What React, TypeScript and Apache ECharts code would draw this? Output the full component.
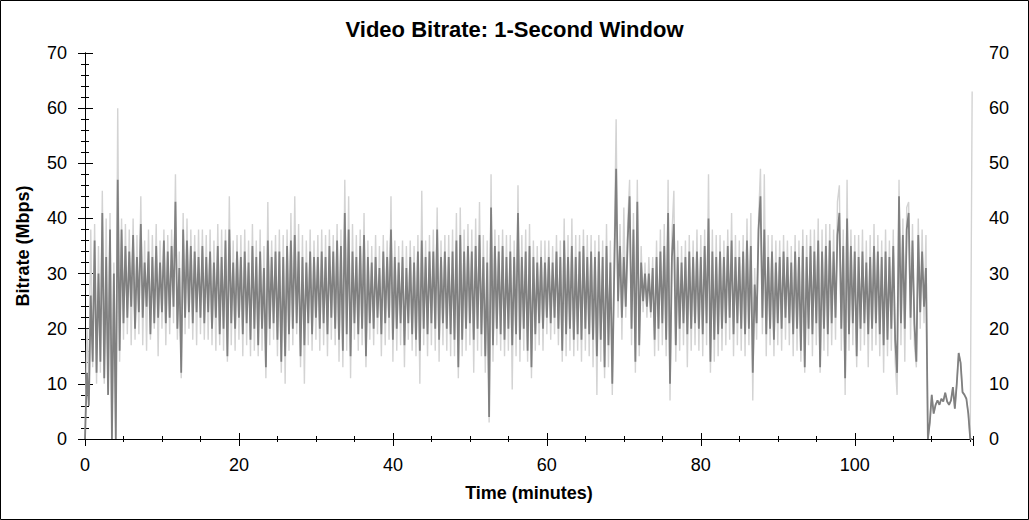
import { useEffect, useRef } from 'react';
import * as echarts from 'echarts';

// one sample every 15 seconds (Mbps)
const STEP_MIN = 0.25;

const DARK: number[] = [
  0, 12, 6, 26, 14, 36, 12, 30, 14, 41, 11, 33, 8, 38, 0, 30, 0, 47, 16, 38,
  21, 35, 22, 34, 24, 37, 20, 33, 23, 39, 22, 32, 24, 34, 19, 33, 21, 35, 22, 32,
  23, 36, 21, 34, 22, 35, 24, 43, 20, 31, 12, 38, 22, 36, 23, 35, 21, 34, 23, 33,
  22, 35, 21, 33, 23, 34, 20, 32, 22, 35, 19, 33, 20, 36, 15, 38, 21, 32, 20, 34,
  22, 33, 19, 34, 21, 32, 18, 35, 20, 33, 17, 34, 20, 31, 13, 36, 20, 33, 21, 34,
  18, 34, 14, 33, 15, 35, 19, 36, 20, 37, 21, 34, 15, 33, 17, 32, 21, 34, 19, 33,
  22, 33, 20, 34, 21, 33, 19, 35, 22, 34, 20, 36, 18, 35, 16, 41, 19, 38, 15, 34,
  21, 33, 19, 35, 20, 37, 15, 33, 21, 32, 20, 33, 22, 31, 19, 34, 21, 33, 22, 38,
  18, 33, 20, 32, 21, 33, 17, 31, 21, 33, 19, 32, 18, 34, 16, 36, 20, 33, 19, 34,
  21, 34, 20, 38, 18, 33, 21, 34, 20, 33, 19, 34, 18, 36, 13, 37, 18, 34, 20, 35,
  21, 34, 18, 35, 20, 37, 19, 33, 15, 32, 4, 42, 17, 35, 20, 34, 19, 35, 18, 33,
  20, 34, 17, 33, 19, 41, 18, 33, 20, 34, 16, 35, 13, 33, 19, 32, 21, 33, 20, 32,
  22, 33, 21, 32, 22, 34, 20, 33, 16, 36, 19, 33, 20, 35, 18, 33, 19, 34, 18, 35,
  20, 33, 19, 34, 18, 33, 15, 34, 18, 33, 13, 35, 17, 32, 10, 30, 49, 25, 35, 22,
  33, 24, 36, 44, 20, 38, 14, 43, 17, 32, 25, 30, 24, 30, 23, 31, 18, 33, 20, 34,
  21, 35, 18, 41, 10, 33, 39, 17, 33, 20, 32, 21, 33, 19, 34, 20, 33, 21, 34, 20,
  33, 19, 35, 21, 40, 14, 34, 18, 33, 19, 34, 20, 33, 21, 35, 22, 36, 19, 33, 21,
  33, 20, 34, 19, 36, 20, 35, 12, 28, 21, 38, 44, 22, 38, 19, 33, 20, 34, 18, 32,
  21, 33, 20, 34, 22, 33, 21, 32, 19, 34, 20, 33, 16, 35, 13, 33, 20, 35, 19, 34,
  21, 36, 13, 34, 20, 35, 19, 36, 21, 34, 22, 37, 41, 20, 35, 11, 40, 19, 35, 21,
  34, 15, 33, 20, 34, 21, 32, 19, 33, 20, 35, 21, 34, 19, 33, 17, 34, 18, 33, 20,
  35, 18, 12, 44, 21, 37, 20, 38, 41, 22, 36, 21, 14, 37, 23, 34, 24, 31, 0, 3,
  8, 4.6, 6.2, 7, 6.2, 7.3, 6.8, 8.4, 6.8, 6.2, 7, 9.4, 5.5, 10, 15.6, 13.8, 8.5, 8, 7.3, 4.6,
  0, 0,
];

const LIGHT: number[] = [
  0, 20, 10, 38, 13, 39, 10, 35, 12, 45, 10, 40, 8, 41, 0, 32, 0, 60, 14, 40,
  18, 39, 19, 38, 17, 40, 18, 37, 19, 44, 17, 36, 16, 38, 18, 37, 20, 39, 15, 36,
  20, 38, 17, 37, 19, 38, 21, 48, 18, 34, 11, 41, 19, 40, 20, 38, 18, 37, 17, 38,
  19, 38, 18, 37, 18, 38, 17, 36, 16, 39, 17, 38, 16, 38, 14, 44, 17, 36, 16, 37,
  18, 37, 15, 38, 17, 36, 15, 39, 16, 36, 15, 38, 16, 35, 11, 43, 17, 36, 18, 37,
  15, 38, 12, 37, 10, 38, 16, 41, 17, 44, 19, 39, 13, 37, 10, 36, 17, 38, 16, 36,
  18, 37, 16, 38, 17, 37, 15, 38, 18, 37, 17, 39, 14, 38, 13, 47, 16, 44, 11, 39,
  18, 37, 16, 38, 17, 41, 13, 36, 18, 35, 17, 37, 19, 35, 15, 37, 17, 36, 18, 44,
  14, 36, 16, 35, 17, 36, 13, 35, 18, 36, 16, 35, 15, 37, 10, 45, 17, 36, 15, 37,
  17, 38, 16, 42, 14, 36, 17, 37, 16, 37, 15, 38, 15, 41, 11, 42, 15, 38, 16, 39,
  17, 38, 12, 40, 16, 43, 15, 37, 12, 36, 3, 48, 14, 38, 17, 37, 16, 38, 15, 37,
  16, 37, 9, 36, 15, 46, 14, 37, 16, 38, 14, 39, 11, 36, 16, 35, 17, 36, 16, 36,
  19, 36, 18, 35, 19, 37, 17, 36, 14, 40, 15, 37, 16, 40, 15, 37, 16, 37, 14, 38,
  16, 37, 15, 37, 13, 36, 8, 37, 14, 36, 11, 39, 13, 36, 8, 33, 58, 22, 39, 18,
  42, 22, 39, 47, 17, 41, 12, 47, 15, 35, 23, 32, 22, 33, 22, 33, 15, 36, 16, 38,
  17, 39, 15, 47, 7, 37, 45, 14, 36, 16, 35, 17, 36, 13, 37, 16, 36, 17, 38, 16,
  37, 15, 38, 17, 48, 12, 38, 14, 37, 15, 37, 16, 36, 17, 38, 18, 41, 15, 37, 17,
  36, 16, 37, 15, 40, 17, 41, 7, 31, 18, 40, 49, 19, 48, 15, 37, 17, 37, 15, 36,
  17, 36, 16, 37, 18, 36, 17, 35, 15, 37, 16, 36, 14, 38, 12, 37, 17, 38, 15, 38,
  17, 40, 12, 38, 16, 39, 15, 39, 17, 38, 18, 43, 46, 16, 38, 8, 47, 16, 38, 17,
  37, 13, 37, 16, 38, 17, 36, 13, 37, 16, 39, 17, 37, 15, 36, 12, 38, 15, 36, 16,
  38, 14, 8, 47, 17, 40, 14, 42, 43, 18, 39, 17, 13, 40, 20, 38, 21, 37, 0, 3,
  8, 4.6, 6.2, 7, 6.2, 7.3, 6.8, 8.4, 6.8, 6.2, 7, 9.4, 5.5, 10, 15.6, 13.8, 8.5, 8, 7.3, 4.6,
  0, 63,
];

const X_MAX = 115.36;
const Y_MAX = 70;

const FONT = 'Arial, "Liberation Sans", sans-serif';

const toPoints = (vals: number[]) => vals.map((v, i) => [i * STEP_MIN, v]);

export default function App() {
  const chartRef = useRef<HTMLDivElement>(null);

  useEffect(() => {
    document.body.style.margin = '0';
    if (!chartRef.current) return;
    const myChart = echarts.init(chartRef.current, undefined, { renderer: 'svg' });

    const tickLabel = { color: '#000', fontSize: 18, fontFamily: FONT };
    const line = { lineStyle: { color: '#000', width: 1 } };

    const yBase = { type: 'value', min: 0, max: Y_MAX, interval: 10, splitLine: { show: false } };
    const xBase = { type: 'value', min: 0, max: X_MAX, splitLine: { show: false } };

    const option = {
      animation: false,
      backgroundColor: '#fff',
      title: {
        text: 'Video Bitrate: 1-Second Window',
        left: 'center',
        top: 13,
        textStyle: { color: '#000', fontSize: 22, fontWeight: 'bold', fontFamily: FONT }
      },
      grid: { left: 85, right: 56, top: 53, bottom: 81, containLabel: false },
      xAxis: [
        {
          ...xBase,
          position: 'bottom',
          interval: 20,
          name: 'Time (minutes)',
          nameLocation: 'middle',
          nameGap: 45,
          nameTextStyle: { color: '#000', fontSize: 18, fontWeight: 'bold', fontFamily: FONT },
          axisLine: line,
          axisTick: { inside: true, length: 6, lineStyle: { color: '#000' } },
          axisLabel: { ...tickLabel, margin: 17, showMaxLabel: false }
        },
        {
          ...xBase,
          position: 'bottom',
          interval: 5,
          axisLine: { show: false },
          axisTick: { inside: true, length: 3, lineStyle: { color: '#000' } },
          axisLabel: { show: false }
        },
        {
          ...xBase,
          position: 'top',
          interval: 20,
          axisLine: line,
          axisTick: { inside: true, length: 7, lineStyle: { color: '#000' } },
          axisLabel: { show: false }
        },
        {
          ...xBase,
          position: 'top',
          interval: 5,
          axisLine: { show: false },
          axisTick: { inside: true, length: 3, lineStyle: { color: '#000' } },
          axisLabel: { show: false }
        }
      ],
      yAxis: [
        {
          ...yBase,
          position: 'left',
          name: 'Bitrate (Mbps)',
          nameLocation: 'middle',
          nameGap: 53,
          nameTextStyle: { color: '#000', fontSize: 18, fontWeight: 'bold', fontFamily: FONT },
          axisLine: line,
          axisTick: { inside: false, length: 7, lineStyle: { color: '#000' } },
          minorTick: { show: true, splitNumber: 5, length: 4, lineStyle: { color: '#000' } },
          axisLabel: { ...tickLabel, margin: 18 }
        },
        {
          ...yBase,
          position: 'left',
          axisLine: { show: false },
          axisTick: { inside: true, length: 6, lineStyle: { color: '#000' } },
          minorTick: { show: true, splitNumber: 5, length: 4, lineStyle: { color: '#000' } },
          axisLabel: { show: false }
        },
        {
          ...yBase,
          position: 'right',
          axisLine: line,
          axisTick: { inside: false, length: 8, lineStyle: { color: '#000' } },
          minorTick: { show: true, splitNumber: 5, length: 4, lineStyle: { color: '#000' } },
          axisLabel: { ...tickLabel, margin: 16 }
        },
        {
          ...yBase,
          position: 'right',
          axisLine: { show: false },
          axisTick: { inside: true, length: 5, lineStyle: { color: '#000' } },
          minorTick: { show: true, splitNumber: 5, length: 3, lineStyle: { color: '#000' } },
          axisLabel: { show: false }
        }
      ],
      graphic: [
        {
          type: 'rect',
          shape: { x: 0.5, y: 0.5, width: 1028, height: 519 },
          style: { fill: 'none', stroke: '#000', lineWidth: 1 },
          silent: true
        }
      ],
      series: [
        {
          name: 'Peak',
          type: 'line',
          xAxisIndex: 0,
          yAxisIndex: 0,
          showSymbol: false,
          symbol: 'none',
          lineStyle: { color: '#d3d3d3', width: 1.4 },
          data: toPoints(LIGHT)
        },
        {
          name: 'Bitrate',
          type: 'line',
          xAxisIndex: 0,
          yAxisIndex: 0,
          showSymbol: false,
          symbol: 'none',
          lineStyle: { color: '#808080', width: 1.8 },
          data: toPoints(DARK)
        }
      ]
    };

    myChart.setOption(option);

    const handleResize = () => myChart.resize();
    window.addEventListener('resize', handleResize);

    return () => {
      window.removeEventListener('resize', handleResize);
      myChart.dispose();
    };
  }, []);

  return <div ref={chartRef} style={{ width: 1029, height: 520 }} />;
}
